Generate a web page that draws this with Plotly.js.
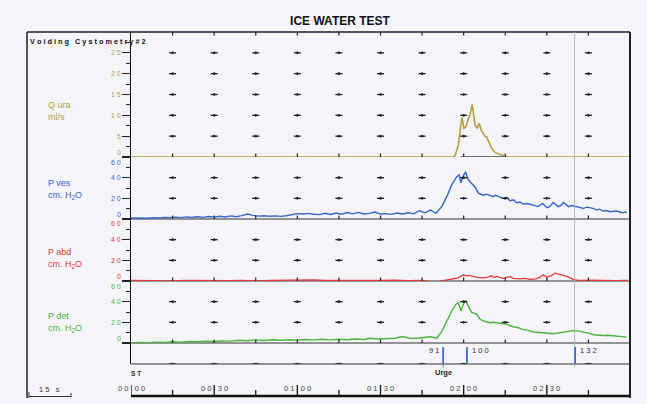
<!DOCTYPE html>
<html><head><meta charset="utf-8">
<script src="https://cdn.plot.ly/plotly-3.0.1.min.js"></script>
<style>html,body{margin:0;padding:0;background:#f4f4f9;}#chart{width:647px;height:404px;}</style>
</head><body><div id="chart"></div>
<script>
// ---- data (seconds from start) ----
const qTime=[0,116,116.9,118.1,118.9,119.4,120.1,120.9,121.6,122.3,123.1,123.6,124.1,124.9,125.6,126.3,127.1,127.7,128.3,129.3,130.1,131.3,133.1,134.9,136,180];
const qFlow=[0,0,0.3,2.9,7.3,9.5,6.9,7.3,9.1,10.1,12.6,10.1,7.7,6.9,8.1,6.5,5.7,4.9,4.8,3.3,2.1,1.1,0.6,0.2,0,0];

const vesTime=[0,2,4,6,8,10,12,14,16,18,20,22,24,26,28,30,32,34,36,38,40,42,44,46,48,50,52,54,56,58,60,62,64,66,68,70,72,74,76,78,80,82,84,86,88,90,92,94,96,98,100,102,104,106,108,110,112.1,113.9,115.7,117.5,118.4,119,119.9,120.7,121.5,122.3,124.1,125.3,127.1,128.3,129.5,130.7,131.5,132.5,134.3,135.5,136.7,138,139.1,140.3,141.5,143,145.1,146.9,148.5,150,151,152.3,154.1,155,156,157.8,159,160.8,162,163.2,164.5,165.6,167,168,169,170.4,171.5,172.8,174,175.2,176.5,177.6,178.2,178.8];
const vesP=[1,0.8,1.2,0.7,1.3,1,1.6,1.2,1.8,1.3,2,1.5,2.2,1.6,2.4,1.8,2.6,2,3,2.2,3.2,4.8,3.5,2.8,3.2,2.6,3,2.5,3.2,4.5,5.2,4.8,5.4,4.6,4.2,5.6,4.4,5.8,4.6,6.2,5,6.4,4.8,5.5,6.8,4.8,5.2,4.5,5.8,4.8,6,5,8,6,8.7,5.5,12,21.6,33,41,42.6,35,42,45.5,39,36,31,25,23,24,23,21.6,23,22,20,21,17.7,18.5,15.8,16.5,14.5,15,13.5,12,15,11,12,16,12,13,16,12,13,12,11.5,10.3,11.5,11,10,8.7,9.5,7.7,8.2,7,7.5,7.7,6.5,6,7,6];

const abdTime=[0,5,10,15,20,25,30,35,40,45,50,55,60,63,66,70,75,80,85,90,95,100,105,108,110,112,114,116,118,120,121,122,123.5,125,127,128.5,130,131,132,134,136.7,138,140,142,144,146,147.5,148.7,150,151.5,153,154.5,155.4,157.2,158.5,159.6,161,163,166,169,172,175,178,179];
const abdP=[0.5,0.3,0.8,0.2,0.6,0.4,0.8,0.3,0.7,0.2,0.6,0.8,1.2,1.5,1,0.5,0.8,0.4,0.7,0.5,0.8,0.3,0.6,-0.5,-1,0,0.8,1.5,3,6,5,5.5,4.5,3.5,3,3.5,5,3.5,4.5,2.5,4.2,2.5,2,2.5,1.5,2,3.5,6,3.5,5,7.5,6,5.6,4.5,3,1.5,0.8,0.5,0.8,0.4,0.7,0.3,0.6,0.5];

const detTime=[0,3,6,9,12,15,18,21,24,27,30,33,36,39,42,45,48,51,54,57,60,63,66,69,72,75,78,81,84,86,89,92,95,98,101,104,106,108,110.3,112.1,113.9,115.7,117.2,118.1,119,119.9,120.7,121.7,122.9,124.7,125.9,127.5,129.5,131,133.1,135.5,137.9,139.5,141.5,143,145.1,146.8,148.7,150.5,152.3,154,156,158,159.6,161.5,163.2,165,166.8,168.5,170.4,172,174,176,177.6,178.8];
const detP=[0,0.5,0.2,0.8,0.6,1.2,0.8,1.4,1.2,1.8,1.4,2,1.8,2.6,2.2,3,2.4,3.2,2.6,3.2,2.8,3.4,3,3.6,3,3.6,3.2,3.8,3.4,4.6,3.8,4.2,4.6,6.3,4.4,4.8,5.5,6,4.6,11.3,21,31,37.5,39,31,37.5,41,35.5,29.5,28,23,21,19.6,20,18.8,18,15.7,15,13,12.5,10.7,10.5,9.7,9.5,9,9.8,10.3,11.5,12,11.5,10.7,9.5,8,7.6,7.3,7.5,7,6.8,6.3,5.7];

const gridTimes=[15,30,45,60,75,90,105,120,135,150,165];
const qTicks=[0,5,10,15,20,25];
const qTickText=['0','5','1 0','1 5','2 0','2 5'];
const pTicks=[0,20,40,60];
const pTickText=['0','2 0','4 0','6 0'];
const timeLabelTimes=[0,30,60,90,120,150];
const timeLabels=['0 0 : 0 0','0 0 : 3 0','0 1 : 0 0','0 1 : 3 0','0 2 : 0 0','0 2 : 3 0'];
const eventTimes=[112.6,121.2,160.2];
const eventLabels=['9 1','1 0 0','1 3 2'];
const urgeTime=112.6;
const channelNames=['Q ura<br>ml/s','P ves<br>cm. H<sub>2</sub>O','P abd<br>cm. H<sub>2</sub>O','P det<br>cm. H<sub>2</sub>O'];

// ---- styling / layout ----
const cQ='#b4a03e', cV='#3566c8', cA='#e23c3c', cD='#4cb43c';
const fx=px=>(px-131)/499, fy=py=>(396-py)/364;
const FONT='Liberation Sans, Arial, sans-serif';

const traces=[
 {x:qTime,y:qFlow,yaxis:'y',mode:'lines',line:{color:cQ,width:1.6}},
 {x:vesTime,y:vesP,yaxis:'y2',mode:'lines',line:{color:cV,width:1.4}},
 {x:abdTime,y:abdP,yaxis:'y3',mode:'lines',line:{color:cA,width:1.3}},
 {x:detTime,y:detP,yaxis:'y4',mode:'lines',line:{color:cD,width:1.4}}
];
// grid dots
function dots(ax,levels){
  const xs=[],ys=[];
  levels.forEach(l=>gridTimes.forEach(t=>{xs.push(t);ys.push(l);}));
  traces.push({x:xs,y:ys,yaxis:ax,mode:'markers',marker:{symbol:'line-ew',size:5,line:{width:1.3,color:'#222'}},hoverinfo:'skip'});
  traces.push({x:xs,y:ys,yaxis:ax,mode:'markers',marker:{symbol:'circle',size:2.6,color:'#222'},hoverinfo:'skip'});
}
dots('y',[5,10,15,20,25]);
dots('y2',[20,40]);dots('y3',[20,40]);dots('y4',[20,40]);
dots('y5',[0]);
// baseline ticks
function bticks(ax,l){
  traces.push({x:gridTimes,y:gridTimes.map(()=>l),yaxis:ax,mode:'markers',marker:{symbol:'line-ns',size:5,line:{width:1.2,color:'#222'}},hoverinfo:'skip'});
}
bticks('y',0);bticks('y',30);bticks('y2',0);bticks('y3',0);bticks('y4',0);

function yax(dom,rng,tv,minor){
  return {domain:dom,range:rng,anchor:'x',showline:true,linecolor:'#111',linewidth:1.5,
   ticks:tv.length?'outside':'',ticklen:8,tickwidth:1.2,tickcolor:'#222',tickvals:tv,showticklabels:false,
   showgrid:false,zeroline:false,fixedrange:true,
   minor:minor?{tickvals:minor,ticks:'outside',ticklen:4,tickwidth:1,tickcolor:'#222'}:undefined};
}

const shapes=[];
function L(x0,y0,x1,y1,color,width,xref,yref,layer){
  shapes.push({type:'line',x0,y0,x1,y1,xref:xref||'paper',yref:yref||'paper',line:{color,width},layer:layer||'above'});
}
L(fx(27),1,fx(630),1,'#222',1.5);
L(fx(27),1,fx(27),fy(398),'#222',1.5);
L(fx(630),1,fx(630),fy(398),'#222',2);
L(0,0,1,0,'#111',2.6);
[219,281,343,364].forEach(p=>L(0,fy(p),1,fy(p),'#333',1.2,'paper','paper','below'));
L(119,0,134.5,0,'#444',1.5,'x','y');
L(160,1,160,fy(367),'#b4b4bc',1,'x','paper');
eventTimes.forEach(t=>L(t,fy(347),t,fy(364),'#3b6fd0',1.8,'x','paper'));
L(urgeTime,fy(364),urgeTime,fy(368),'#888',1,'x','paper');
[0].concat(gridTimes).forEach(t=>{
  const lab=timeLabelTimes.indexOf(t)>=0;
  L(t,0,t,fy(lab?385:390),'#111',1.3,'x','paper');
});
L(fx(29),fy(396.5),fx(71),fy(396.5),'#333',1);
L(fx(29),fy(392),fx(29),fy(398),'#333',1);
L(fx(71),fy(393),fx(71),fy(397),'#333',1);

const ann=[];
function A(text,x,y,o){ann.push(Object.assign({text,x,y,xref:'paper',yref:'paper',showarrow:false,font:{family:FONT,size:8,color:'#333'}},o||{}));}
A('<b>V o i d i n g   C y s t o m e t r y # 2</b>',fx(28),fy(41),{xanchor:'left',yanchor:'middle',font:{family:FONT,size:7.3,color:'#111'}});
const chCol=[cQ,cV,cA,cD], chY=[111,189.5,258,322];
channelNames.forEach((n,i)=>A(n,fx(46),fy(chY[i]),{xanchor:'left',yanchor:'middle',align:'left',font:{family:FONT,size:9,color:chCol[i]}}));
function tlabels(ax,vals,txt,col){
  vals.forEach((v,i)=>ann.push({text:txt[i],x:0,y:v,xref:'paper',yref:ax,xanchor:'right',yanchor:'middle',xshift:-8,
    yshift:(v===0?5:(v===60?-5:0)),showarrow:false,font:{family:FONT,size:7,color:col}}));
}
tlabels('y',qTicks,qTickText,cQ);
tlabels('y2',pTicks,pTickText,cV);
tlabels('y3',pTicks,pTickText,cA);
tlabels('y4',pTicks,pTickText,cD);
timeLabelTimes.forEach((t,i)=>ann.push({text:timeLabels[i],x:t,y:fy(388),xref:'x',yref:'paper',xanchor:'center',yanchor:'middle',showarrow:false,font:{family:FONT,size:7.5,color:'#444'}}));
eventTimes.forEach((t,i)=>ann.push({text:eventLabels[i],x:t,y:fy(350),xref:'x',yref:'paper',xanchor:i===0?'right':'left',xshift:i===0?-2:3,yanchor:'middle',showarrow:false,font:{family:FONT,size:7.5,color:'#333'}}));
ann.push({text:'<b>Urge</b>',x:urgeTime,y:fy(372.5),xref:'x',yref:'paper',xanchor:'center',yanchor:'middle',showarrow:false,font:{family:FONT,size:7.5,color:'#222'}});
A('<b>S T</b>',fx(129),fy(373),{xanchor:'left',yanchor:'middle',font:{family:FONT,size:6.5,color:'#333'}});
A('1 5   s',fx(37),fy(389.5),{xanchor:'left',yanchor:'middle',font:{family:FONT,size:7.5,color:'#333'}});

const layout={
  width:647,height:404,margin:{l:131,r:17,t:32,b:8},
  paper_bgcolor:'#f4f4f9',plot_bgcolor:'#f4f4f9',showlegend:false,
  title:{text:'<b>ICE WATER TEST</b>',x:340/647,xanchor:'center',y:1-21/404,yanchor:'middle',font:{family:FONT,size:12,color:'#111'}},
  xaxis:{range:[0,180],domain:[0,1],visible:false,fixedrange:true},
  yaxis:yax([fy(157),1],[0,30],qTicks,[2.5,7.5,12.5,17.5,22.5,27.5]),
  yaxis2:yax([fy(219),fy(157)],[0,60],pTicks,[10,30,50]),
  yaxis3:yax([fy(281),fy(219)],[0,60],pTicks,[10,30,50]),
  yaxis4:yax([fy(343),fy(281)],[0,60],pTicks,[10,30,50]),
  yaxis5:yax([fy(364),fy(343)],[0,1],[],null),
  shapes,annotations:ann
};
Plotly.newPlot('chart',traces,layout,{displayModeBar:false,staticPlot:true});
</script></body></html>
